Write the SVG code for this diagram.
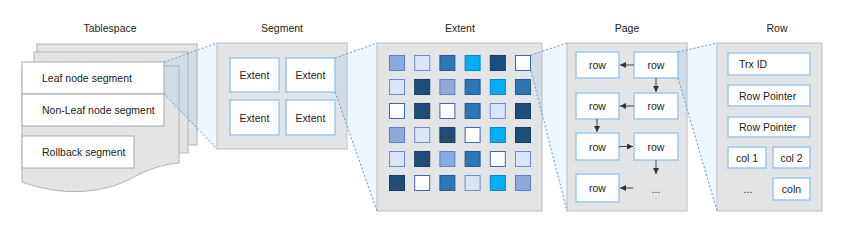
<svg xmlns="http://www.w3.org/2000/svg" width="864" height="241" viewBox="0 0 864 241">
<style>
text{font-family:"Liberation Sans",Arial,sans-serif;font-size:10.5px;fill:#222;dominant-baseline:central}
.c{text-anchor:middle}
.ctr{fill:#e3e4e6;stroke:#bdbdbd;stroke-width:1}
.sheet{fill:#e3e4e6;stroke:#b3b3b3;stroke-width:1}
.tb{fill:#fff;stroke:#a9a9a9;stroke-width:1}
.bb{fill:#fff;stroke:#9ec7ee;stroke-width:1.5}
.proj{fill:#eef7fd}
.ovl{fill:rgb(140,185,215);fill-opacity:0.2}
.dash{fill:none;stroke:#5b9bd5;stroke-width:1;stroke-dasharray:2 2}
.arr{stroke:#444;stroke-width:1;fill:none;marker-end:url(#ah)}
.cl{stroke-width:1}
.A{fill:#8eaadb;stroke:#5b7fc4}
.B{fill:#dbe4f4;stroke:#6d8ccb}
.C{fill:#2e75b6;stroke:#1f5a9c}
.D{fill:#00b0f0;stroke:#0a84c6}
.E{fill:#1f4e79;stroke:#173b61}
.W{fill:#ffffff;stroke:#3f66b0}
</style>
<defs>
<marker id="ah" viewBox="0 0 10 10" refX="10" refY="5" markerWidth="6" markerHeight="6" markerUnits="userSpaceOnUse" orient="auto">
<path d="M0,0 L10,5 L0,10 z" fill="#333"/>
</marker>
</defs>

<g id="projections-back">
<polygon class="proj" points="164,62 217,43 217,149 164,94"/>
<polygon class="proj" points="335,58 377,43 377,211 335,92"/>
<polygon class="proj" points="531,55 567,43 567,211 531,71"/>
<polygon class="proj" points="678,52 717,43 717,211 678,78"/>
</g>

<g id="tablespace">
<text class="c" x="110" y="28">Tablespace</text>
<rect class="sheet" x="37" y="44" width="160" height="101"/>
<rect class="sheet" x="34" y="52" width="154" height="101"/>
<path class="sheet" d="M22,66 H179 V163 C165,164 150,168 128,180 C100,194 60,196 22,182 Z"/>
<g id="leaf-node-segment"><rect class="tb" x="22" y="62" width="142" height="32"/><text x="42" y="78">Leaf node segment</text></g>
<g id="non-leaf-node-segment"><rect class="tb" x="22" y="94" width="142" height="32"/><text x="42" y="110">Non-Leaf node segment</text></g>
<g id="rollback-segment"><rect class="tb" x="22" y="136" width="112" height="32"/><text x="42" y="152">Rollback segment</text></g>
</g>

<g id="segment">
<text class="c" x="282" y="28">Segment</text>
<rect class="ctr" x="217" y="43" width="130" height="106"/>
<g id="seg-extent-1"><rect class="bb" x="230" y="58" width="49" height="34"/><text class="c" x="254.5" y="75">Extent</text></g>
<g id="seg-extent-2"><rect class="bb" x="286" y="58" width="49" height="34"/><text class="c" x="310.5" y="75">Extent</text></g>
<g id="seg-extent-3"><rect class="bb" x="230" y="100" width="49" height="35"/><text class="c" x="254.5" y="117.5">Extent</text></g>
<g id="seg-extent-4"><rect class="bb" x="286" y="100" width="49" height="35"/><text class="c" x="310.5" y="117.5">Extent</text></g>
</g>

<g id="extent">
<text class="c" x="460" y="28">Extent</text>
<rect class="ctr" x="377" y="43" width="165" height="168"/>
<g class="cl">
<rect class="A" x="389.5" y="55.5" width="15" height="15"/>
<rect class="B" x="414.7" y="55.5" width="15" height="15"/>
<rect class="C" x="439.9" y="55.5" width="15" height="15"/>
<rect class="D" x="465.1" y="55.5" width="15" height="15"/>
<rect class="E" x="490.3" y="55.5" width="15" height="15"/>
<rect class="W" x="515.5" y="55.5" width="15" height="15"/>

<rect class="B" x="389.5" y="79.5" width="15" height="15"/>
<rect class="E" x="414.7" y="79.5" width="15" height="15"/>
<rect class="A" x="439.9" y="79.5" width="15" height="15"/>
<rect class="C" x="465.1" y="79.5" width="15" height="15"/>
<rect class="D" x="490.3" y="79.5" width="15" height="15"/>
<rect class="C" x="515.5" y="79.5" width="15" height="15"/>

<rect class="W" x="389.5" y="103.5" width="15" height="15"/>
<rect class="E" x="414.7" y="103.5" width="15" height="15"/>
<rect class="W" x="439.9" y="103.5" width="15" height="15"/>
<rect class="C" x="465.1" y="103.5" width="15" height="15"/>
<rect class="B" x="490.3" y="103.5" width="15" height="15"/>
<rect class="E" x="515.5" y="103.5" width="15" height="15"/>

<rect class="A" x="389.5" y="127.5" width="15" height="15"/>
<rect class="B" x="414.7" y="127.5" width="15" height="15"/>
<rect class="E" x="439.9" y="127.5" width="15" height="15"/>
<rect class="W" x="465.1" y="127.5" width="15" height="15"/>
<rect class="D" x="490.3" y="127.5" width="15" height="15"/>
<rect class="E" x="515.5" y="127.5" width="15" height="15"/>

<rect class="B" x="389.5" y="151.5" width="15" height="15"/>
<rect class="E" x="414.7" y="151.5" width="15" height="15"/>
<rect class="A" x="439.9" y="151.5" width="15" height="15"/>
<rect class="C" x="465.1" y="151.5" width="15" height="15"/>
<rect class="W" x="490.3" y="151.5" width="15" height="15"/>
<rect class="B" x="515.5" y="151.5" width="15" height="15"/>

<rect class="E" x="389.5" y="175.5" width="15" height="15"/>
<rect class="W" x="414.7" y="175.5" width="15" height="15"/>
<rect class="C" x="439.9" y="175.5" width="15" height="15"/>
<rect class="B" x="465.1" y="175.5" width="15" height="15"/>
<rect class="D" x="490.3" y="175.5" width="15" height="15"/>
<rect class="A" x="515.5" y="175.5" width="15" height="15"/>
</g>
</g>

<g id="page">
<text class="c" x="627" y="28">Page</text>
<rect class="ctr" x="567" y="43" width="120" height="168"/>
<g id="page-row-1"><rect class="bb" x="576" y="52" width="43" height="26"/><text class="c" x="597.5" y="65">row</text></g>
<g id="page-row-2"><rect class="bb" x="634" y="52" width="44" height="26"/><text class="c" x="656" y="65">row</text></g>
<g id="page-row-3"><rect class="bb" x="576" y="93" width="43" height="26"/><text class="c" x="597.5" y="106">row</text></g>
<g id="page-row-4"><rect class="bb" x="634" y="93" width="44" height="26"/><text class="c" x="656" y="106">row</text></g>
<g id="page-row-5"><rect class="bb" x="576" y="133" width="43" height="27"/><text class="c" x="597.5" y="146.5">row</text></g>
<g id="page-row-6"><rect class="bb" x="634" y="133" width="44" height="27"/><text class="c" x="656" y="146.5">row</text></g>
<g id="page-row-7"><rect class="bb" x="576" y="174" width="43" height="28"/><text class="c" x="597.5" y="188">row</text></g>
<text class="c" x="656" y="189">...</text>
</g>

<g id="row">
<text class="c" x="777" y="28">Row</text>
<rect class="ctr" x="717" y="43" width="105" height="168"/>
<g id="trx-id"><rect class="bb" x="728" y="53" width="82" height="22"/><text x="739" y="64">Trx ID</text></g>
<g id="row-pointer-1"><rect class="bb" x="728" y="85" width="82" height="21"/><text x="739" y="95.5">Row Pointer</text></g>
<g id="row-pointer-2"><rect class="bb" x="728" y="117" width="82" height="20"/><text x="739" y="127">Row Pointer</text></g>
<g id="col-1"><rect class="bb" x="728" y="147" width="38" height="21"/><text class="c" x="747" y="157.5">col 1</text></g>
<g id="col-2"><rect class="bb" x="773" y="147" width="37" height="21"/><text class="c" x="791.5" y="157.5">col 2</text></g>
<text class="c" x="748" y="189">...</text>
<g id="col-n"><rect class="bb" x="773" y="178" width="37" height="22"/><text class="c" x="791.5" y="189">coln</text></g>
</g>

<g id="connectors">
<polygon class="ovl" points="164,62 197,50.2 197,128.2 164,94"/>
<polygon class="ovl" points="335,58 347,53.7 347,126 335,92"/>
<polygon class="ovl" points="531,55 542,51.3 542,113.8 531,71"/>
<polygon class="ovl" points="678,52 687,49.9 687,108.7 678,78"/>
<line class="dash" x1="164" y1="62" x2="217" y2="43"/>
<line class="dash" x1="164" y1="94" x2="217" y2="149"/>
<line class="dash" x1="335" y1="58" x2="377" y2="43"/>
<line class="dash" x1="335" y1="92" x2="377" y2="211"/>
<line class="dash" x1="531" y1="55" x2="567" y2="43"/>
<line class="dash" x1="531" y1="71" x2="567" y2="211"/>
<line class="dash" x1="678" y1="52" x2="717" y2="43"/>
<line class="dash" x1="678" y1="78" x2="717" y2="211"/>
<line class="arr" x1="634" y1="65" x2="620" y2="65"/>
<line class="arr" x1="656" y1="78" x2="656" y2="92"/>
<line class="arr" x1="634" y1="106" x2="620" y2="106"/>
<line class="arr" x1="597" y1="119" x2="597" y2="132"/>
<line class="arr" x1="619" y1="146.5" x2="633" y2="146.5"/>
<line class="arr" x1="656" y1="160" x2="656" y2="174"/>
<line class="arr" x1="633" y1="188" x2="620" y2="188"/>
</g>
</svg>
